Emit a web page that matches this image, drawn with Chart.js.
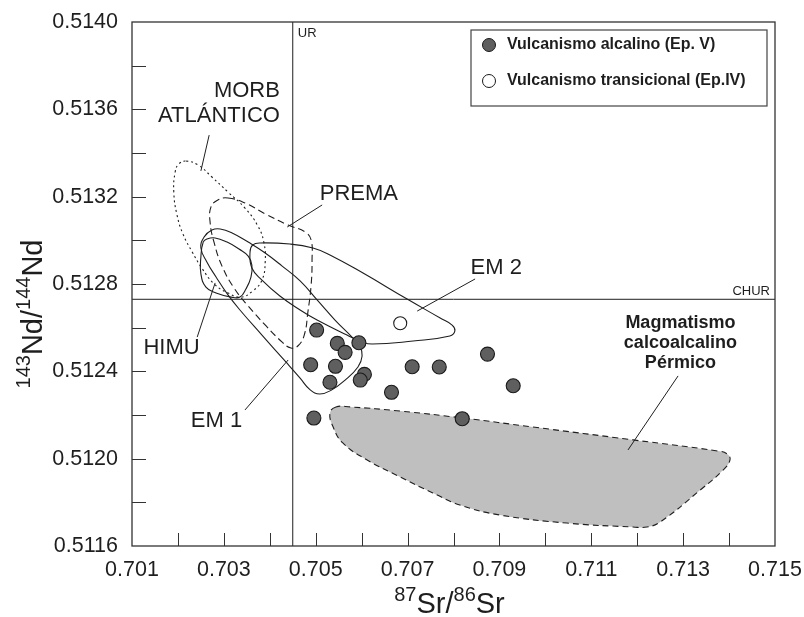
<!DOCTYPE html>
<html>
<head>
<meta charset="utf-8">
<title>87Sr/86Sr vs 143Nd/144Nd</title>
<script src="https://cdn.jsdelivr.net/npm/chart.js@4.4.1/dist/chart.umd.min.js"></script>
<style>
  html, body { margin: 0; padding: 0; background: #fff; }
  #wrap { width: 804px; height: 617px; position: relative; }
</style>
</head>
<body>
<div id="wrap"><canvas id="srnd"></canvas></div>
<script>
/* ── DATOS ── */
const xTickValues = [0.701, 0.702, 0.703, 0.704, 0.705, 0.706, 0.707, 0.708, 0.709, 0.710, 0.711, 0.712, 0.713, 0.714, 0.715];
const xTickLabels = ['0.701', '', '0.703', '', '0.705', '', '0.707', '', '0.709', '', '0.711', '', '0.713', '', '0.715'];
const yTickValues = [0.5116, 0.5118, 0.5120, 0.5122, 0.5124, 0.5126, 0.5128, 0.5130, 0.5132, 0.5134, 0.5136, 0.5138, 0.5140];
const yTickLabels = ['0.5116', '', '0.5120', '', '0.5124', '', '0.5128', '', '0.5132', '', '0.5136', '', '0.5140'];

const UR = 0.7045;
const CHUR = 0.51273;

// Vulcanismo alcalino (Ep. V)
const alcalinoSr = [0.70502, 0.70547, 0.70564, 0.70594, 0.70489, 0.70543, 0.70606, 0.70597, 0.70531, 0.70665, 0.70710, 0.70769, 0.70874, 0.70930, 0.70496, 0.70819];
const alcalinoNd = [0.512589, 0.512528, 0.512487, 0.512531, 0.512430, 0.512423, 0.512386, 0.512360, 0.512350, 0.512304, 0.512421, 0.512420, 0.512479, 0.512334, 0.512186, 0.512183];

// Vulcanismo transicional (Ep.IV)
const transicionalSr = [0.70684];
const transicionalNd = [0.512620];

// campos (contornos)
const morbSr = [0.70218, 0.70244, 0.70274, 0.70309, 0.70346, 0.70374, 0.70387, 0.70390, 0.70383, 0.70363, 0.70337, 0.70309, 0.70279, 0.70252, 0.70231, 0.70211, 0.70198, 0.70191, 0.70194, 0.70202];
const morbNd = [0.513363, 0.513345, 0.513290, 0.513221, 0.513148, 0.513066, 0.512992, 0.512901, 0.512818, 0.512768, 0.512740, 0.512759, 0.512800, 0.512873, 0.512947, 0.513029, 0.513116, 0.513221, 0.513313, 0.513350];

const premaSr = [0.70309, 0.70346, 0.70390, 0.70440, 0.70477, 0.70490, 0.70492, 0.70490, 0.70483, 0.70475, 0.70461, 0.70446, 0.70427, 0.70392, 0.70353, 0.70322, 0.70296, 0.70279, 0.70270, 0.70272, 0.70287];
const premaNd = [0.513194, 0.513171, 0.513121, 0.513070, 0.513038, 0.513002, 0.512910, 0.512795, 0.512672, 0.512566, 0.512516, 0.512507, 0.512534, 0.512608, 0.512699, 0.512782, 0.512882, 0.512988, 0.513084, 0.513153, 0.513185];

const himuSr = [0.70255, 0.70263, 0.70281, 0.70307, 0.70333, 0.70353, 0.70361, 0.70359, 0.70348, 0.70335, 0.70316, 0.70283, 0.70261, 0.70250, 0.70250];
const himuNd = [0.512992, 0.513006, 0.513011, 0.512992, 0.512960, 0.512928, 0.512887, 0.512832, 0.512777, 0.512740, 0.512740, 0.512759, 0.512786, 0.512846, 0.512924];

const em1Sr = [0.70257, 0.70274, 0.70292, 0.70318, 0.70353, 0.70390, 0.70427, 0.70466, 0.70503, 0.70542, 0.70579, 0.70596, 0.70601, 0.70592, 0.70564, 0.70535, 0.70509, 0.70488, 0.70466, 0.70435, 0.70383, 0.70335, 0.70309, 0.70283, 0.70263, 0.70250];
const em1Nd = [0.513015, 0.513047, 0.513052, 0.513034, 0.512992, 0.512942, 0.512882, 0.512814, 0.512727, 0.512635, 0.512557, 0.512516, 0.512470, 0.512420, 0.512360, 0.512315, 0.512296, 0.512315, 0.512369, 0.512443, 0.512566, 0.512681, 0.512750, 0.512832, 0.512901, 0.512965];

const em2Sr = [0.70357, 0.70363, 0.70379, 0.70444, 0.70494, 0.70531, 0.70603, 0.70699, 0.70771, 0.70797, 0.70803, 0.70792, 0.70712, 0.70623, 0.70596, 0.70568, 0.70503, 0.70466, 0.70422, 0.70383, 0.70361];
const em2Nd = [0.512947, 0.512979, 0.512988, 0.512983, 0.512965, 0.512933, 0.512850, 0.512731, 0.512644, 0.512612, 0.512585, 0.512562, 0.512539, 0.512525, 0.512539, 0.512566, 0.512635, 0.512681, 0.512745, 0.512818, 0.512873];

const permicoSr = [0.70544, 0.70531, 0.70538, 0.70559, 0.70612, 0.70684, 0.70755, 0.70814, 0.70901, 0.71047, 0.71191, 0.71221, 0.71250, 0.71337, 0.71387, 0.71402, 0.71396, 0.71376, 0.71191, 0.70973, 0.70821, 0.70684, 0.70575];
const permicoNd = [0.512237, 0.512209, 0.512145, 0.512072, 0.511994, 0.511916, 0.511843, 0.511788, 0.511742, 0.511705, 0.511687, 0.511687, 0.511710, 0.511856, 0.511948, 0.511994, 0.512021, 0.512035, 0.512086, 0.512145, 0.512186, 0.512218, 0.512237];

// etiquetas de los campos [texto, Sr, Nd, alineación]
const fieldLabels = [
  ['MORB', 0.70422, 0.513684, 'right'],
  ['ATLÁNTICO', 0.70422, 0.513569, 'right'],
  ['PREMA', 0.70594, 0.513212, 'center'],
  ['EM 2', 0.70893, 0.512873, 'center'],
  ['HIMU', 0.70186, 0.512507, 'center'],
  ['EM 1', 0.70284, 0.512173, 'center']
];
const permicoLabel = ['Magmatismo', 'calcoalcalino', 'Pérmico'];
const permicoLabelPos = [0.71294, [0.512621, 0.512530, 0.512438]];

// líneas guía [Sr0, Nd0, Sr1, Nd1]
const leaders = [
  [0.70268, 0.513482, 0.70250, 0.513318],
  [0.70514, 0.513162, 0.70438, 0.513061],
  [0.70847, 0.512823, 0.70721, 0.512676],
  [0.70242, 0.512557, 0.70281, 0.512805],
  [0.70346, 0.512223, 0.70440, 0.512452],
  [0.71289, 0.512379, 0.71180, 0.512040]
];

/* ── HELPERS ── */
const INK = '#1e1e1e';
const FONT = "'Liberation Sans', Arial, sans-serif";

function toPts(xs, ys) {
  return xs.map((x, i) => ({ x: x, y: ys[i] }));
}

function field(label, xs, ys, dash, extra) {
  return Object.assign({
    label: label,
    data: toPts(xs, ys),
    closed: true,
    showLine: true,
    tension: 0.45,
    borderColor: INK,
    borderWidth: 1.1,
    borderDash: dash,
    pointRadius: 0,
    fill: false,
    order: 5
  }, extra || {});
}

function segLine(x0, y0, x1, y1, order) {
  return {
    data: [{ x: x0, y: y0 }, { x: x1, y: y1 }],
    showLine: true, tension: 0, borderColor: INK, borderWidth: 1,
    pointRadius: 0, fill: false, order: order
  };
}

// cerrar los contornos como lazos suaves
const closeLoops = {
  id: 'closeLoops',
  afterDatasetUpdate(chart, args) {
    const ds = chart.data.datasets[args.index];
    if (ds.closed) {
      args.meta.dataset._loop = true;
      args.meta.dataset._fullLoop = true;
    }
  }
};

function richWidth(ctx, parts, big, small) {
  let w = 0;
  parts.forEach(p => {
    ctx.font = (p[1] ? small : big) + 'px ' + FONT;
    w += ctx.measureText(p[0]).width;
  });
  return w;
}

function drawRich(ctx, parts, cx, baseY, big, small) {
  let x = cx - richWidth(ctx, parts, big, small) / 2;
  ctx.textAlign = 'left';
  ctx.textBaseline = 'alphabetic';
  parts.forEach(p => {
    ctx.font = (p[1] ? small : big) + 'px ' + FONT;
    ctx.fillText(p[0], x, p[1] ? baseY - big * 0.4 : baseY);
    x += ctx.measureText(p[0]).width;
  });
}

const decor = {
  id: 'decor',
  afterDatasetsDraw(chart) {
    const { ctx, chartArea: a } = chart;
    const sx = chart.scales.x, sy = chart.scales.y;
    const px = v => sx.getPixelForValue(v);
    const py = v => sy.getPixelForValue(v);
    ctx.save();

    // marco
    ctx.strokeStyle = '#333';
    ctx.lineWidth = 1.3;
    ctx.strokeRect(a.left, a.top, a.right - a.left, a.bottom - a.top);

    // marcas hacia dentro
    ctx.lineWidth = 1;
    ctx.beginPath();
    xTickValues.slice(1, -1).forEach(v => {
      const x = Math.round(px(v)) + 0.5;
      ctx.moveTo(x, a.bottom); ctx.lineTo(x, a.bottom - 13);
    });
    yTickValues.slice(1, -1).forEach(v => {
      const y = Math.round(py(v)) + 0.5;
      ctx.moveTo(a.left, y); ctx.lineTo(a.left + 14, y);
    });
    ctx.stroke();

    ctx.fillStyle = INK;
    // UR / CHUR
    ctx.font = '13px ' + FONT;
    ctx.textBaseline = 'middle';
    ctx.textAlign = 'left';
    ctx.fillText('UR', px(UR) + 5, a.top + 11);
    ctx.textAlign = 'right';
    ctx.fillText('CHUR', a.right - 5, py(CHUR) - 8);

    // etiquetas de campos
    ctx.font = '22px ' + FONT;
    fieldLabels.forEach(l => {
      ctx.textAlign = l[3];
      ctx.fillText(l[0], px(l[1]), py(l[2]));
    });
    ctx.font = 'bold 18px ' + FONT;
    ctx.textAlign = 'center';
    permicoLabel.forEach((t, i) => ctx.fillText(t, px(permicoLabelPos[0]), py(permicoLabelPos[1][i])));

    // leyenda
    const ds = chart.data.datasets;
    const rows = [ds[0], ds[1]];
    const bw = 296, bh = 76;
    const bx = a.right - 8 - bw, by = a.top + 8;
    ctx.fillStyle = '#fff';
    ctx.fillRect(bx, by, bw, bh);
    ctx.strokeStyle = '#444';
    ctx.lineWidth = 1.2;
    ctx.strokeRect(bx, by, bw, bh);
    rows.forEach((d, i) => {
      const cy = by + 15 + i * 36;
      ctx.beginPath();
      ctx.arc(bx + 18, cy, 6.5, 0, Math.PI * 2);
      ctx.fillStyle = d.backgroundColor;
      ctx.fill();
      ctx.strokeStyle = d.borderColor;
      ctx.lineWidth = 1;
      ctx.stroke();
      ctx.fillStyle = INK;
      ctx.font = 'bold 16px ' + FONT;
      ctx.textAlign = 'left';
      ctx.textBaseline = 'middle';
      ctx.fillText(d.label, bx + 36, cy);
    });

    // títulos de ejes
    ctx.fillStyle = INK;
    drawRich(ctx, [['87', 1], ['Sr/', 0], ['86', 1], ['Sr', 0]], (a.left + a.right) / 2 - 4, 613, 29, 20);
    ctx.translate(42, (a.top + a.bottom) / 2 + 30);
    ctx.rotate(-Math.PI / 2);
    drawRich(ctx, [['143', 1], ['Nd/', 0], ['144', 1], ['Nd', 0]], 0, 0, 29, 20);
    ctx.restore();
  }
};

/* ── GRÁFICO ── */
const datasets = [
  {
    label: 'Vulcanismo alcalino (Ep. V)',
    data: toPts(alcalinoSr, alcalinoNd),
    backgroundColor: '#5f5f5f', borderColor: '#1a1a1a', borderWidth: 1.1,
    pointRadius: 7, showLine: false, order: 1
  },
  {
    label: 'Vulcanismo transicional (Ep.IV)',
    data: toPts(transicionalSr, transicionalNd),
    backgroundColor: '#ffffff', borderColor: '#1a1a1a', borderWidth: 1.1,
    pointRadius: 6.5, showLine: false, order: 1
  },
  field('Magmatismo calcoalcalino Pérmico', permicoSr, permicoNd, [6, 4], { fill: 'shape', backgroundColor: '#bfbfbf', order: 8 }),
  field('MORB Atlántico', morbSr, morbNd, [2, 3]),
  field('PREMA', premaSr, premaNd, [7, 4]),
  field('HIMU', himuSr, himuNd, []),
  field('EM 1', em1Sr, em1Nd, []),
  field('EM 2', em2Sr, em2Nd, []),
  segLine(UR, 0.5116, UR, 0.5140, 6),
  segLine(0.701, CHUR, 0.715, CHUR, 6)
].concat(leaders.map(l => segLine(l[0], l[1], l[2], l[3], 4)));

new Chart(document.getElementById('srnd'), {
  type: 'scatter',
  data: { datasets: datasets },
  plugins: [closeLoops, decor],
  options: {
    responsive: true,
    maintainAspectRatio: false,
    animation: false,
    events: [],
    layout: { padding: { top: 22, right: 29, left: 0, bottom: 0 } },
    plugins: { legend: { display: false }, tooltip: { enabled: false } },
    scales: {
      x: {
        type: 'linear', min: 0.701, max: 0.715,
        grid: { display: false, drawTicks: false },
        border: { display: false },
        afterBuildTicks: s => { s.ticks = xTickValues.map(v => ({ value: v })); },
        afterFit: s => { s.height = 71; s.paddingLeft = 0; s.paddingRight = 0; },
        ticks: {
          autoSkip: false, maxRotation: 0, padding: 11,
          color: INK, font: { family: FONT, size: 21.5 },
          callback: (v, i) => xTickLabels[i]
        }
      },
      y: {
        type: 'linear', min: 0.5116, max: 0.5140,
        grid: { display: false, drawTicks: false },
        border: { display: false },
        afterBuildTicks: s => { s.ticks = yTickValues.map(v => ({ value: v })); },
        afterFit: s => { s.width = 132; s.paddingTop = 0; s.paddingBottom = 0; },
        ticks: {
          autoSkip: false, padding: 14,
          color: INK, font: { family: FONT, size: 21.5 },
          callback: (v, i) => yTickLabels[i]
        }
      }
    }
  }
});
</script>
</body>
</html>
